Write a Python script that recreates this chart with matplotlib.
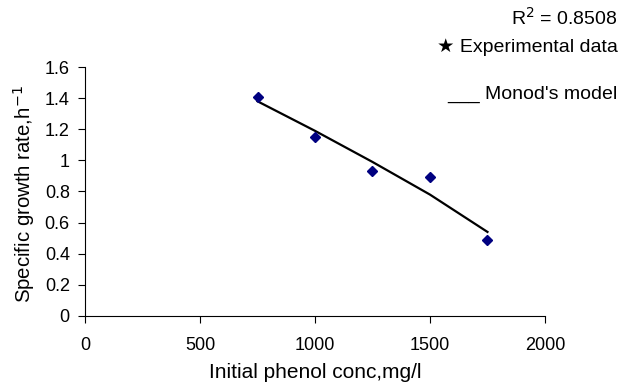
import matplotlib.pyplot as plt

plt.rcParams['font.family'] = ['Liberation Sans', 'DejaVu Sans']

# experimental data
conc = [750, 1000, 1250, 1500, 1750]
rate = [1.41, 1.15, 0.93, 0.89, 0.49]
# Monod's model
model_conc = [750, 1000, 1250, 1500, 1750]
model_rate = [1.38, 1.19, 0.99, 0.78, 0.54]

fig = plt.figure(figsize=(6.3, 3.9), dpi=100)
ax = fig.add_axes([0.135, 0.19, 0.73, 0.638])

ax.plot(model_conc, model_rate, color='black', lw=1.6)
ax.plot(conc, rate, 'D', color='#000080', ms=5, ls='none')

ax.set_xlim(0, 2000)
ax.set_ylim(0, 1.6)
ax.set_xticks([0, 500, 1000, 1500, 2000])
ax.set_yticks([0, 0.2, 0.4, 0.6, 0.8, 1, 1.2, 1.4, 1.6])
ax.set_yticklabels(['0', '0.2', '0.4', '0.6', '0.8', '1', '1.2', '1.4', '1.6'])
ax.spines['top'].set_visible(False)
ax.spines['right'].set_visible(False)
ax.tick_params(direction='out', length=5, labelsize=13, pad=6)
ax.tick_params(axis='x', pad=10)

ax.set_xlabel('Initial phenol conc,mg/l', fontsize=15, labelpad=7)
ax.set_ylabel('Specific growth rate,h$^{-1}$', fontsize=14.7, labelpad=3)
ax.yaxis.set_label_coords(-0.105, 0.49)

fig.text(0.98, 0.955, 'R$^2$ = 0.8508', fontsize=14, ha='right', va='center')
fig.text(0.98, 0.88, '★ Experimental data', fontsize=14, ha='right', va='center')
fig.text(0.98, 0.757, "___ Monod's model", fontsize=14, ha='right', va='center')

fig.savefig('out.png', dpi=100)
